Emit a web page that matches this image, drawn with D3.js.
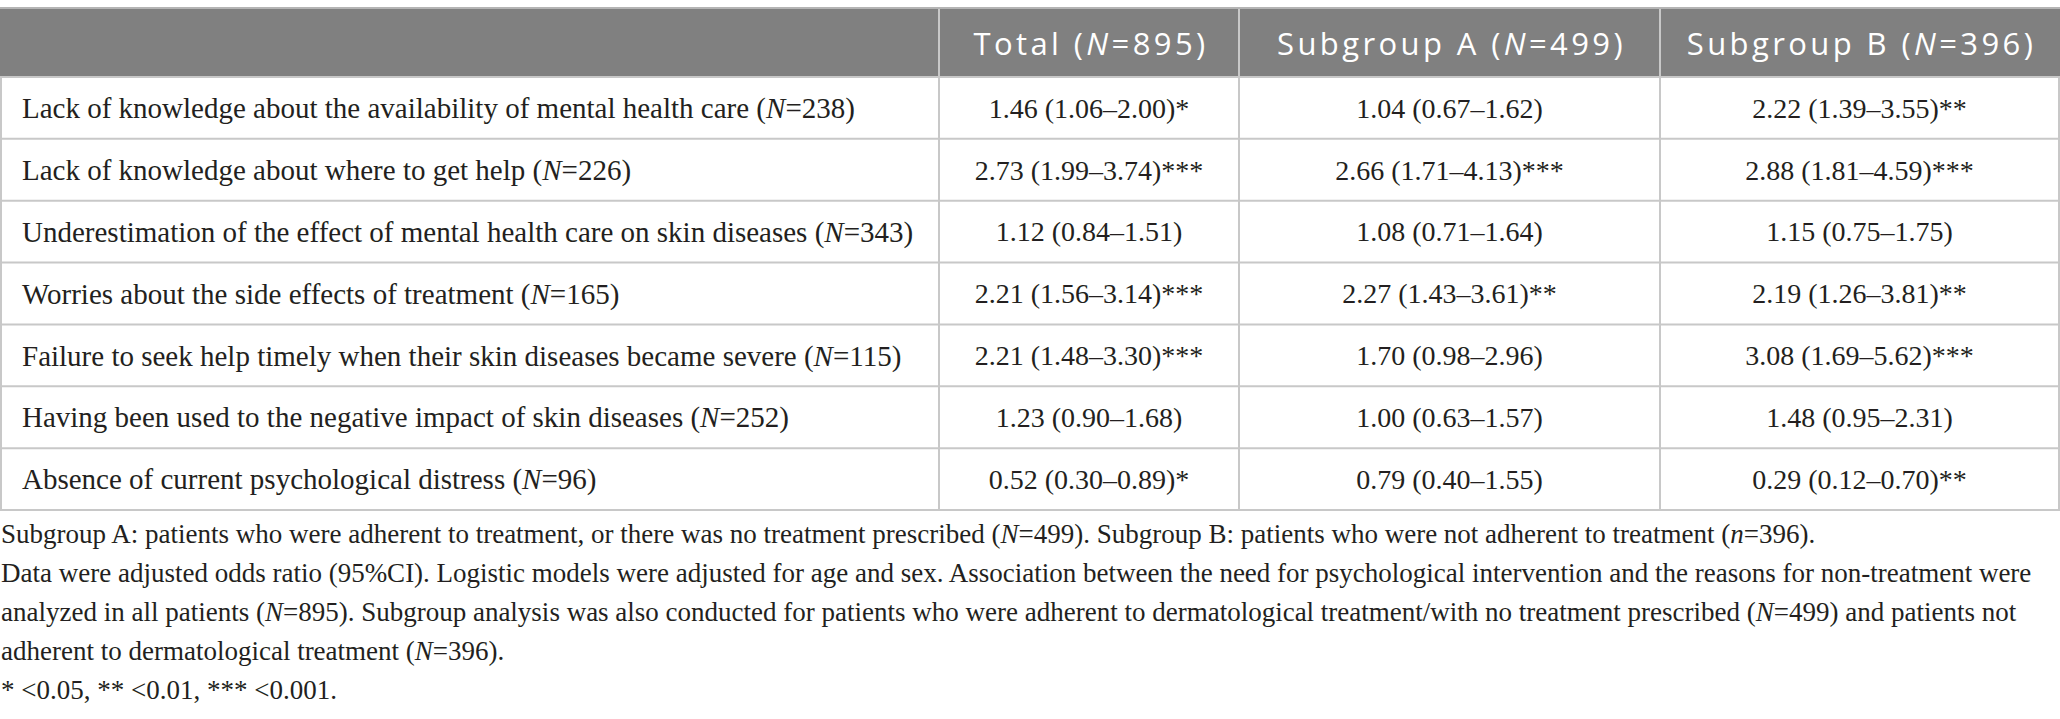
<!DOCTYPE html>
<html>
<head>
<meta charset="utf-8">
<script src="https://cdn.jsdelivr.net/npm/d3@7"></script>
<style>
    html, body { margin: 0; padding: 0; background: #fff; }
    svg { display: block; }
</style>
</head>
<body>
<svg id="oddsTable"></svg>
<script>
// table values
var reasons = [
    "Lack of knowledge about the availability of mental health care",
    "Lack of knowledge about where to get help",
    "Underestimation of the effect of mental health care on skin diseases",
    "Worries about the side effects of treatment",
    "Failure to seek help timely when their skin diseases became severe",
    "Having been used to the negative impact of skin diseases",
    "Absence of current psychological distress"
];
var reasonN = [238, 226, 343, 165, 115, 252, 96];

var groups = ["Total", "Subgroup A", "Subgroup B"];
var groupN = [895, 499, 396];

var totalOR = [1.46, 2.73, 1.12, 2.21, 2.21, 1.23, 0.52];
var totalLo = [1.06, 1.99, 0.84, 1.56, 1.48, 0.90, 0.30];
var totalHi = [2.00, 3.74, 1.51, 3.14, 3.30, 1.68, 0.89];
var totalSig = ["*", "***", "", "***", "***", "", "*"];

var subAOR = [1.04, 2.66, 1.08, 2.27, 1.70, 1.00, 0.79];
var subALo = [0.67, 1.71, 0.71, 1.43, 0.98, 0.63, 0.40];
var subAHi = [1.62, 4.13, 1.64, 3.61, 2.96, 1.57, 1.55];
var subASig = ["", "***", "", "**", "", "", ""];

var subBOR = [2.22, 2.88, 1.15, 2.19, 3.08, 1.48, 0.29];
var subBLo = [1.39, 1.81, 0.75, 1.26, 1.69, 0.95, 0.12];
var subBHi = [3.55, 4.59, 1.75, 3.81, 5.62, 2.31, 0.70];
var subBSig = ["**", "***", "", "**", "***", "", "**"];

// footnote lines, each a list of [text, italic] pieces
var footnotes = [
    [["Subgroup A: patients who were adherent to treatment, or there was no treatment prescribed (", 0], ["N", 1], ["=499). Subgroup B: patients who were not adherent to treatment (", 0], ["n", 1], ["=396).", 0]],
    [["Data were adjusted odds ratio (95%CI). Logistic models were adjusted for age and sex. Association between the need for psychological intervention and the reasons for non-treatment were", 0]],
    [["analyzed in all patients (", 0], ["N", 1], ["=895). Subgroup analysis was also conducted for patients who were adherent to dermatological treatment/with no treatment prescribed (", 0], ["N", 1], ["=499) and patients not", 0]],
    [["adherent to dermatological treatment (", 0], ["N", 1], ["=396).", 0]],
    [["* <0.05, ** <0.01, *** <0.001.", 0]]
];

(function () {

    var width = 2060;
    var height = 719;
    var tableTop = 8;
    var headTop = 9;
    var headBottom = 77;
    var bodyBottom = 510;
    var colEdges = [0, 939, 1239, 1660, 2059];
    var labelPad = 22;
    var serif = "'Liberation Serif', 'Times New Roman', serif";
    var sans = "'Open Sans', 'DejaVu Sans', sans-serif";
    var ink = "#231f20";
    var rule = "#c8c8c8";
    var headFill = "#808080";

    var fmt = d3.format(".2f");

    var cols = [
        { or: totalOR, lo: totalLo, hi: totalHi, sig: totalSig },
        { or: subAOR, lo: subALo, hi: subAHi, sig: subASig },
        { or: subBOR, lo: subBLo, hi: subBHi, sig: subBSig }
    ];

    var y = d3.scaleBand()
        .domain(d3.range(reasons.length))
        .range([headBottom, bodyBottom])
        .padding(0);

    var x = d3.scaleOrdinal()
        .domain(d3.range(colEdges.length))
        .range(colEdges);

    function colMid(i) {
        return (x(i) + x(i + 1)) / 2;
    }

    var svg = d3.select("#oddsTable")
        .attr("width", width)
        .attr("height", height);

    // header band
    svg.append("rect")
        .attr("x", x(0))
        .attr("y", headTop)
        .attr("width", x(4) - x(0) + 1)
        .attr("height", headBottom - headTop)
        .attr("fill", headFill);

    svg.append("line")
        .attr("x1", 0).attr("x2", width)
        .attr("y1", tableTop).attr("y2", tableTop)
        .attr("stroke", "#b4b4b4")
        .attr("stroke-width", 2);

    // row rules
    svg.selectAll("line.rowRule")
        .data(d3.range(reasons.length + 1))
        .enter()
        .append("line")
        .attr("class", "rowRule")
        .attr("x1", x(0))
        .attr("x2", x(4) + 1)
        .attr("y1", d => d < reasons.length ? y(d) : bodyBottom)
        .attr("y2", d => d < reasons.length ? y(d) : bodyBottom)
        .attr("stroke", rule)
        .attr("stroke-width", 2);

    // column rules
    svg.selectAll("line.colRule")
        .data(d3.range(colEdges.length))
        .enter()
        .append("line")
        .attr("class", "colRule")
        .attr("x1", d => x(d) + (d === 0 ? 1 : 0))
        .attr("x2", d => x(d) + (d === 0 ? 1 : 0))
        .attr("y1", d => (d === 0 || d === 4) ? headBottom : headTop)
        .attr("y2", bodyBottom)
        .attr("stroke", rule)
        .attr("stroke-width", 2);

    // header labels
    var head = svg.selectAll("text.head")
        .data(groups)
        .enter()
        .append("text")
        .attr("class", "head")
        .attr("x", (d, i) => colMid(i + 1) + 2)
        .attr("y", (headTop + headBottom) / 2 + 1)
        .attr("dy", "0.36em")
        .attr("text-anchor", "middle")
        .style("font-family", sans)
        .style("font-size", "31px")
        .style("letter-spacing", "3.4px")
        .attr("fill", "#fff");
    head.append("tspan").text(d => d + " (");
    head.append("tspan").style("font-style", "italic").text("N");
    head.append("tspan").text((d, i) => "=" + groupN[i] + ")");

    // row labels
    var label = svg.selectAll("text.reason")
        .data(reasons)
        .enter()
        .append("text")
        .attr("class", "reason")
        .attr("x", labelPad)
        .attr("y", (d, i) => y(i) + y.bandwidth() / 2)
        .attr("dy", "0.35em")
        .style("font-family", serif)
        .style("font-size", "29px")
        .attr("fill", ink);
    label.append("tspan").text(d => d + " (");
    label.append("tspan").style("font-style", "italic").text("N");
    label.append("tspan").text((d, i) => "=" + reasonN[i] + ")");

    // value cells
    cols.forEach(function (c, ci) {
        svg.selectAll("text.val" + ci)
            .data(c.or)
            .enter()
            .append("text")
            .attr("class", "val" + ci)
            .attr("x", colMid(ci + 1))
            .attr("y", (d, i) => y(i) + y.bandwidth() / 2)
            .attr("dy", "0.35em")
            .attr("text-anchor", "middle")
            .style("font-family", serif)
            .style("font-size", "28px")
            .attr("fill", ink)
            .text((d, i) => fmt(d) + " (" + fmt(c.lo[i]) + "\u2013" + fmt(c.hi[i]) + ")" + c.sig[i]);
    });

    // footnotes
    var notes = svg.selectAll("text.note")
        .data(footnotes)
        .enter()
        .append("text")
        .attr("class", "note")
        .attr("x", 1)
        .attr("y", (d, i) => 543 + i * 39)
        .style("font-family", serif)
        .style("font-size", "27px")
        .attr("fill", ink);
    notes.selectAll("tspan")
        .data(d => d)
        .enter()
        .append("tspan")
        .style("font-style", d => d[1] ? "italic" : "normal")
        .text(d => d[0]);

})();
</script>
</body>
</html>
